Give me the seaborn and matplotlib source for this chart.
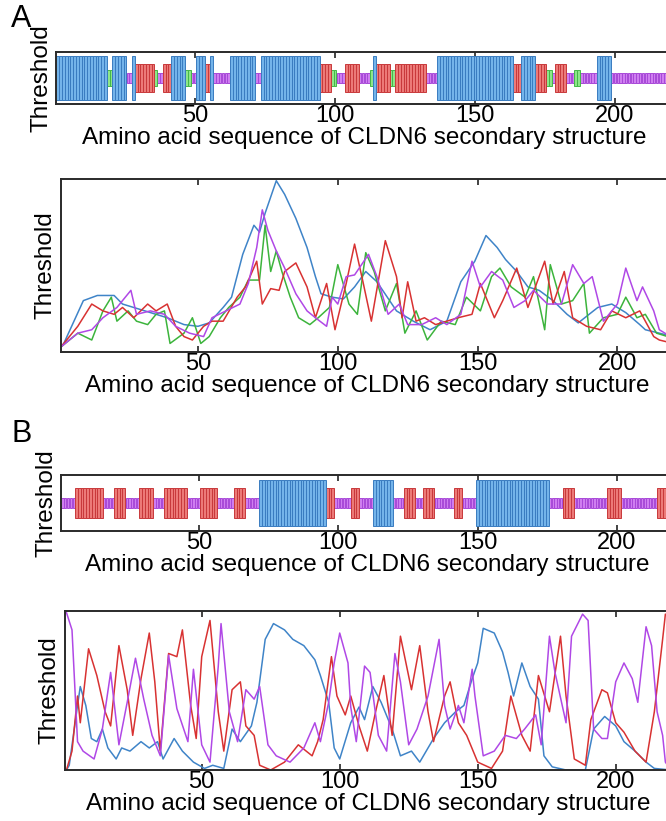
import numpy as np
import pandas as pd
import seaborn as sns
import matplotlib.pyplot as plt

sns.set_style("white")
plt.rcParams['font.family'] = ['Liberation Sans', 'DejaVu Sans']
plt.rcParams['text.color'] = 'black'
plt.rcParams['axes.labelcolor'] = 'black'
plt.rcParams['xtick.color'] = 'black'

# secondary structure runs: H helix, E strand, T turn, C coil
a_ss_types = "HTHCHETCEHTCHEHCHCHETCECTHETECHEHETCECTCHC"
a_ss_lengths = [18, 2, 5, 2, 1, 7, 1, 2, 3, 5, 2, 2, 3, 2, 1, 6, 9, 2, 21, 4, 2,
                3, 5, 4, 1, 1, 5, 2, 11, 4, 27, 3, 5, 4, 2, 1, 4, 3, 2, 6, 5, 22]
b_ss_types = "CECECECECECECHECECHCECECECHCECECEC"
b_ss_lengths = [5, 10, 4, 4, 5, 5, 4, 8, 5, 6, 6, 4, 5, 24, 3, 6, 3, 5, 7, 4, 4,
                3, 4, 7, 3, 5, 26, 5, 4, 12, 5, 13, 3, 3]

# panel A threshold curves (residue, value)
a_helix_x = [1, 2, 9, 14, 20, 23, 33, 39, 45, 50, 54, 59, 62, 66, 70, 72, 74, 78, 81, 85, 89, 92, 94,
             98, 102, 106, 110, 114, 121, 127, 133, 139, 144, 149, 153, 157, 160, 164, 168, 172, 177,
             182, 186, 193, 198, 203, 208, 210, 215, 220]
a_helix_y = [0.03, 0.05, 0.30, 0.33, 0.33, 0.28, 0.23, 0.20, 0.16, 0.15, 0.17, 0.26, 0.32, 0.57, 0.74,
             0.70, 0.81, 1.0, 0.92, 0.78, 0.61, 0.44, 0.34, 0.32, 0.31, 0.38, 0.47, 0.41, 0.24, 0.18,
             0.13, 0.18, 0.41, 0.53, 0.68, 0.61, 0.54, 0.47, 0.38, 0.36, 0.30, 0.22, 0.17, 0.26, 0.28,
             0.23, 0.16, 0.13, 0.11, 0.09]
a_strand_x = [1, 7, 12, 16, 20, 23, 27, 32, 35, 39, 42, 45, 48, 52, 55, 59, 64, 67, 71, 73, 76, 79, 81,
              85, 89, 92, 96, 99, 103, 106, 109, 112, 117, 121, 123, 125, 128, 131, 135, 139, 143, 148,
              151, 156, 159, 164, 168, 174, 177, 181, 184, 189, 194, 198, 203, 208, 213, 215, 220]
a_strand_y = [0.03, 0.15, 0.28, 0.24, 0.22, 0.26, 0.20, 0.28, 0.24, 0.28, 0.15, 0.09, 0.07, 0.15, 0.18,
              0.18, 0.32, 0.38, 0.53, 0.28, 0.37, 0.36, 0.47, 0.52, 0.38, 0.20, 0.40, 0.13, 0.40, 0.63,
              0.41, 0.18, 0.65, 0.44, 0.20, 0.41, 0.18, 0.20, 0.16, 0.18, 0.20, 0.22, 0.40, 0.20, 0.30,
              0.49, 0.26, 0.53, 0.28, 0.47, 0.20, 0.15, 0.13, 0.24, 0.20, 0.24, 0.09, 0.07, 0.05]
a_turn_x = [1, 7, 12, 16, 19, 21, 25, 28, 32, 35, 38, 40, 45, 48, 51, 54, 58, 61, 65, 68, 72, 74, 76,
            78, 80, 83, 86, 90, 93, 97, 100, 104, 107, 110, 113, 117, 121, 124, 128, 132, 137, 142,
            146, 151, 155, 158, 162, 167, 170, 174, 176, 180, 184, 188, 190, 195, 200, 203, 207, 210,
            214, 220]
a_turn_y = [0.03, 0.11, 0.07, 0.24, 0.32, 0.18, 0.24, 0.18, 0.16, 0.22, 0.24, 0.05, 0.11, 0.20, 0.05,
            0.09, 0.20, 0.26, 0.32, 0.42, 0.42, 0.74, 0.47, 0.59, 0.47, 0.32, 0.20, 0.16, 0.20, 0.26,
            0.51, 0.28, 0.22, 0.58, 0.47, 0.24, 0.40, 0.11, 0.24, 0.07, 0.18, 0.16, 0.32, 0.24, 0.44,
            0.49, 0.38, 0.32, 0.44, 0.13, 0.51, 0.28, 0.30, 0.40, 0.11, 0.20, 0.22, 0.32, 0.20, 0.22,
            0.11, 0.08]
a_coil_x = [1, 7, 12, 16, 21, 26, 28, 33, 38, 42, 47, 52, 55, 60, 65, 68, 71, 73, 75, 78, 81, 85, 89,
            92, 96, 98, 100, 103, 106, 111, 114, 118, 122, 125, 130, 135, 139, 144, 148, 151, 155,
            159, 163, 167, 170, 175, 180, 184, 188, 191, 195, 200, 203, 207, 209, 213, 215, 220]
a_coil_y = [0.03, 0.11, 0.13, 0.20, 0.26, 0.36, 0.22, 0.24, 0.22, 0.15, 0.11, 0.09, 0.20, 0.24, 0.28,
            0.40, 0.61, 0.83, 0.71, 0.59, 0.49, 0.34, 0.24, 0.20, 0.15, 0.32, 0.28, 0.44, 0.45, 0.57,
            0.44, 0.22, 0.28, 0.16, 0.16, 0.20, 0.16, 0.22, 0.53, 0.38, 0.47, 0.42, 0.26, 0.30, 0.36,
            0.28, 0.28, 0.51, 0.40, 0.44, 0.18, 0.28, 0.49, 0.30, 0.38, 0.24, 0.13, 0.08]

# panel B threshold curves
b_helix_x = [1, 2, 5, 6, 8, 10, 12, 14, 16, 19, 21, 24, 28, 31, 34, 36, 40, 43, 47, 51, 54, 58, 61, 64,
             68, 70, 73, 76, 80, 83, 87, 91, 93, 96, 98, 100, 104, 107, 109, 112, 115, 119, 122, 126,
             129, 134, 138, 142, 145, 148, 150, 152, 156, 159, 161, 163, 166, 169, 172, 174, 177, 182,
             189, 192, 196, 200, 203, 207, 211, 214, 220]
b_helix_y = [0.0, 0.03, 0.41, 0.53, 0.41, 0.20, 0.18, 0.26, 0.14, 0.07, 0.14, 0.12, 0.18, 0.14, 0.18,
             0.07, 0.20, 0.12, 0.05, 0.01, 0.03, 0.01, 0.26, 0.18, 0.28, 0.43, 0.83, 0.93, 0.89, 0.83,
             0.79, 0.70, 0.60, 0.43, 0.14, 0.07, 0.30, 0.40, 0.32, 0.53, 0.43, 0.26, 0.09, 0.12, 0.05,
             0.20, 0.30, 0.37, 0.41, 0.58, 0.68, 0.90, 0.87, 0.75, 0.62, 0.47, 0.68, 0.53, 0.45, 0.09,
             0.02, 0.0, 0.0, 0.26, 0.34, 0.28, 0.18, 0.12, 0.05, 0.01, 0.0]
b_strand_x = [1, 3, 5, 6, 9, 12, 15, 17, 20, 23, 25, 28, 31, 33, 35, 38, 41, 43, 46, 48, 50, 53, 56, 58,
              61, 64, 66, 69, 71, 75, 80, 85, 90, 92, 94, 97, 99, 102, 104, 107, 110, 113, 116, 119,
              122, 126, 129, 132, 134, 138, 140, 143, 146, 150, 155, 159, 162, 166, 169, 172, 176, 180,
              182, 185, 189, 191, 195, 197, 200, 203, 207, 211, 214, 217, 218, 220]
b_strand_y = [0.0, 0.12, 0.47, 0.30, 0.77, 0.60, 0.37, 0.28, 0.79, 0.51, 0.22, 0.58, 0.87, 0.56, 0.12,
              0.74, 0.72, 0.89, 0.41, 0.20, 0.72, 0.95, 0.37, 0.12, 0.51, 0.56, 0.28, 0.22, 0.03, 0.0,
              0.05, 0.16, 0.09, 0.18, 0.32, 0.72, 0.47, 0.35, 0.47, 0.28, 0.12, 0.37, 0.60, 0.22, 0.85,
              0.51, 0.79, 0.37, 0.18, 0.47, 0.56, 0.30, 0.22, 0.05, 0.01, 0.12, 0.47, 0.22, 0.12, 0.60,
              0.37, 0.85, 0.47, 0.07, 0.03, 0.32, 0.51, 0.49, 0.30, 0.24, 0.12, 0.05, 0.37, 0.83, 0.99,
              0.95]
b_coil_x = [1, 3, 5, 7, 11, 14, 17, 20, 23, 26, 29, 32, 35, 38, 41, 45, 47, 50, 53, 56, 57, 60, 63, 66,
            69, 71, 74, 77, 82, 87, 91, 93, 96, 98, 100, 103, 104, 106, 109, 111, 114, 117, 120, 122,
            125, 128, 132, 136, 138, 140, 143, 145, 148, 149, 152, 156, 160, 164, 167, 171, 173, 176,
            178, 182, 184, 188, 190, 192, 195, 197, 200, 203, 206, 208, 211, 213, 215, 217, 218, 220]
b_coil_y = [1.0, 0.89, 0.18, 0.12, 0.07, 0.26, 0.62, 0.16, 0.43, 0.71, 0.45, 0.22, 0.09, 0.73, 0.39,
            0.18, 0.64, 0.16, 0.05, 0.66, 0.93, 0.37, 0.18, 0.51, 0.45, 0.53, 0.16, 0.09, 0.05, 0.14,
            0.30, 0.18, 0.43, 0.68, 0.87, 0.68, 0.40, 0.18, 0.66, 0.62, 0.22, 0.12, 0.74, 0.56, 0.16,
            0.26, 0.47, 0.83, 0.41, 0.26, 0.41, 0.30, 0.64, 0.47, 0.09, 0.12, 0.22, 0.20, 0.26, 0.35,
            0.16, 0.85, 0.62, 0.30, 0.85, 0.99, 0.95, 0.26, 0.20, 0.20, 0.56, 0.68, 0.58, 0.43, 0.91,
            0.79, 0.37, 0.22, 0.05, 0.0]

ss_height = {'H': 0.83, 'E': 0.54, 'T': 0.29, 'C': 0.18}
ss_width = {'H': 1.0, 'E': 1.0, 'T': 1.0, 'C': 0.8}
ss_fill = {'H': '#74b4ea', 'E': '#ec7a78', 'T': '#8ee68a', 'C': '#cf7ef0'}
ss_edge = {'H': '#3a7cc0', 'E': '#c8383a', 'T': '#44b848', 'C': '#a848d8'}
line_colors = {'helix': '#3f84c8', 'strand': '#d83232', 'turn': '#3cb43c', 'coil': '#b048e6'}
xlabel = "Amino acid sequence of CLDN6 secondary structure"

fig = plt.figure(figsize=(6.66, 8.21), dpi=100)


def style_axis(ax, xlim):
    ax.set_xlim(*xlim)
    ax.set_yticks([])
    ax.set_xticks([50, 100, 150, 200])
    ax.tick_params(axis='x', direction='in', top=True, bottom=True, length=4,
                   width=1.2, color='#222222', labelsize=17, pad=1)
    for sp in ax.spines.values():
        sp.set_color('#2a2a2a')
        sp.set_linewidth(1.4)
    ax.set_xlabel(xlabel, fontsize=17.5, labelpad=0)
    ax.set_ylabel("Threshold", fontsize=17.5, labelpad=3)


def draw_strip(ax, types, lengths):
    ss = np.repeat(list(types), lengths)
    res = np.arange(1, len(ss) + 1)
    for t in ['C', 'T', 'E', 'H']:
        m = ss == t
        h = ss_height[t]
        ax.bar(res[m], h, bottom=-h / 2, width=ss_width[t], color=ss_fill[t],
               edgecolor=ss_edge[t], linewidth=0.7)
    ax.set_ylim(-0.5, 0.5)


def draw_lines(ax, series):
    frames = []
    for name, xs, ys in series:
        frames.append(pd.DataFrame({'residue': xs, 'threshold': ys, 'kind': name}))
    df = pd.concat(frames)
    sns.lineplot(data=df, x='residue', y='threshold', hue='kind', palette=line_colors,
                 estimator=None, legend=False, linewidth=1.1, ax=ax)
    ax.set_ylim(0, 1.01)


# Panel A structure strip
ax1 = fig.add_axes([56.4 / 666, 1 - 104 / 821, 616 / 666, 52 / 821])
draw_strip(ax1, a_ss_types, a_ss_lengths)
style_axis(ax1, (0.5, 220.5))

# Panel A curves
ax2 = fig.add_axes([61 / 666, 1 - 352 / 821, 612.3 / 666, 173 / 821])
draw_lines(ax2, [('helix', a_helix_x, a_helix_y), ('turn', a_turn_x, a_turn_y),
                 ('strand', a_strand_x, a_strand_y), ('coil', a_coil_x, a_coil_y)])
style_axis(ax2, (1, 220))

# Panel B structure strip
ax3 = fig.add_axes([61.2 / 666, 1 - 531 / 821, 612.7 / 666, 56 / 821])
draw_strip(ax3, b_ss_types, b_ss_lengths)
style_axis(ax3, (0.5, 220.5))

# Panel B curves
ax4 = fig.add_axes([65.1 / 666, 1 - 770 / 821, 605.8 / 666, 159 / 821])
draw_lines(ax4, [('helix', b_helix_x, b_helix_y), ('strand', b_strand_x, b_strand_y),
                 ('coil', b_coil_x, b_coil_y)])
style_axis(ax4, (0.5, 220))

fig.text(0.016, 0.995, "A", fontsize=22, va='top', ha='left')
fig.text(0.018, 0.49, "B", fontsize=22, va='top', ha='left')

fig.savefig("out.png", dpi=100)
